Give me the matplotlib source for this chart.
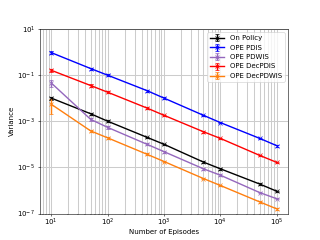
import matplotlib
matplotlib.use('Agg')
import matplotlib.pyplot as plt
from matplotlib.ticker import NullLocator

# Número de episodios y varianza estimada de cada método
episodes = [10, 50, 100, 500, 1000, 5000, 10000, 50000, 100000]

on_policy = [1.0e-2, 2.1e-3, 1.0e-3, 2.0e-4, 1.0e-4, 1.7e-5, 8.7e-6, 1.9e-6, 9.3e-7]
ope_pdis = [0.93, 0.19, 0.098, 0.021, 0.010, 1.8e-3, 8.7e-4, 1.8e-4, 8.7e-5]
ope_pdwis = [4.5e-2, 1.2e-3, 5.4e-4, 1.0e-4, 4.8e-5, 8.7e-6, 4.6e-6, 8.1e-7, 4.4e-7]
ope_decpdis = [0.16, 3.5e-2, 1.8e-2, 3.7e-3, 1.8e-3, 3.5e-4, 1.8e-4, 3.3e-5, 1.65e-5]
ope_decpdwis = [5.4e-3, 3.8e-4, 1.9e-4, 3.7e-5, 1.8e-5, 3.3e-6, 1.65e-6, 3.2e-7, 1.6e-7]

# Error (desviación) de cada serie
err_on_policy = [1.5e-3, 2e-4, 8e-5, 1.5e-5, 7e-6, 1.2e-6, 6e-7, 1.3e-7, 6e-8]
err_pdis = [0.12, 0.02, 0.01, 2e-3, 1e-3, 1.5e-4, 7e-5, 1.5e-5, 7e-6]
err_pdwis = [1.5e-2, 2e-4, 6e-5, 1e-5, 4e-6, 7e-7, 4e-7, 6e-8, 3e-8]
err_decpdis = [0.02, 4e-3, 2e-3, 3e-4, 1.5e-4, 3e-5, 1.5e-5, 3e-6, 1.3e-6]
err_decpdwis = [3.3e-3, 5e-5, 2e-5, 3e-6, 1.5e-6, 3e-7, 1.3e-7, 3e-8, 1.3e-8]

y_ticks = [1e-7, 1e-5, 1e-3, 1e-1, 1e1]

series = [
    ('On Policy', on_policy, err_on_policy, 'black'),
    ('OPE PDIS', ope_pdis, err_pdis, 'blue'),
    ('OPE PDWIS', ope_pdwis, err_pdwis, 'tab:purple'),
    ('OPE DecPDIS', ope_decpdis, err_decpdis, 'red'),
    ('OPE DecPDWIS', ope_decpdwis, err_decpdwis, 'tab:orange'),
]

fig, ax = plt.subplots(figsize=(6.4, 4.8), dpi=50)

for name, vals, err, color in series:
    ax.errorbar(episodes, vals, yerr=err, label=name, color=color,
                marker='x', markersize=7, linewidth=2, capsize=3)

ax.set_xscale('log')
ax.set_yscale('log')
ax.set_ylim(1e-7, 1e1)
ax.set_yticks(y_ticks)
ax.yaxis.set_minor_locator(NullLocator())
ax.grid(True, which='both', color='0.8', linewidth=1.5)
ax.tick_params(axis='x', pad=0.5)
ax.set_xlabel('Number of Episodes', labelpad=2)
ax.set_ylabel('Variance')
ax.legend(loc='upper right')

plt.savefig('out.png', dpi=50)
plt.close()
